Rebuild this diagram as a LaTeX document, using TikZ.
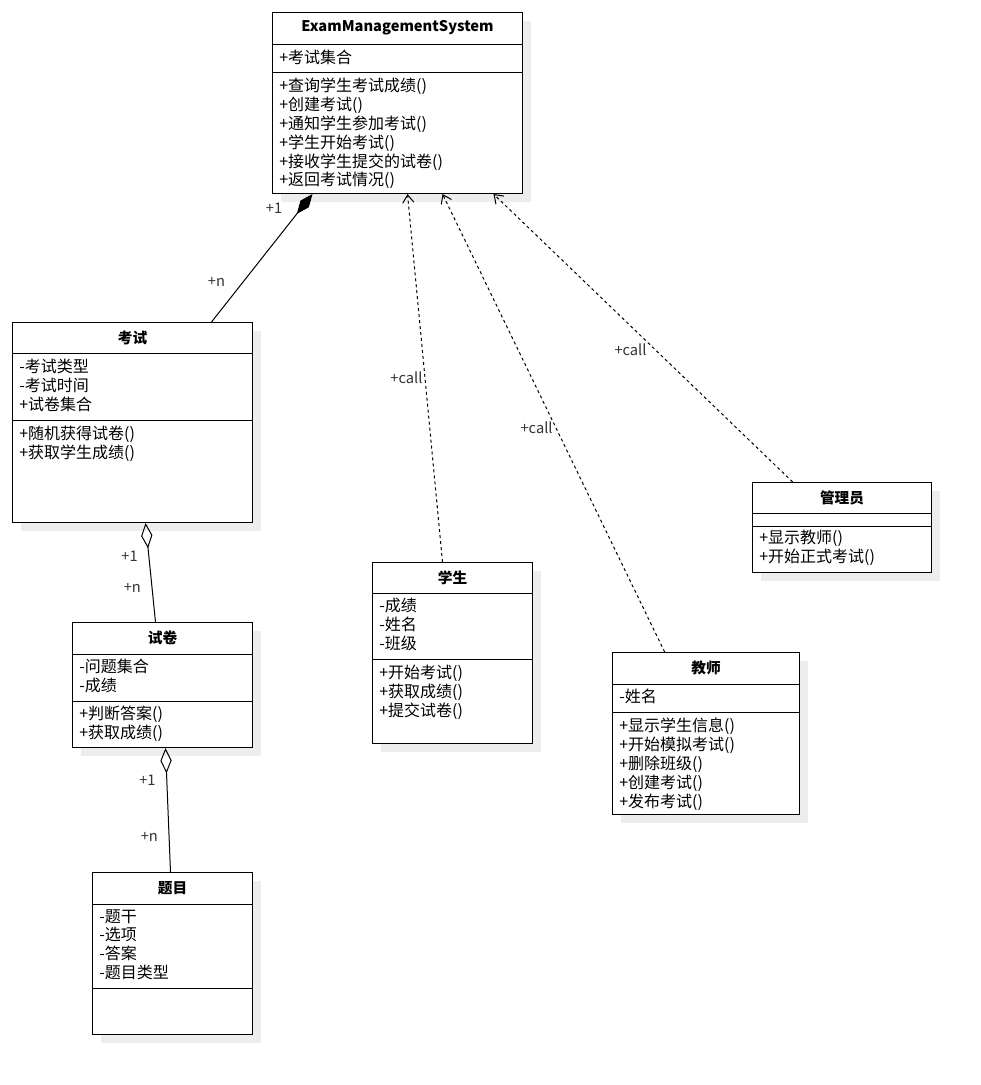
\documentclass[tikz,border=0pt]{standalone}
\usepackage{fontspec}
\setmainfont{Noto Sans CJK SC}
\usepackage{tikz}
\usetikzlibrary{arrows.meta}
\usetikzlibrary{positioning}
\usetikzlibrary{shadows}
\tikzstyle{every node}+=[inner sep=0pt]
\tikzstyle{classbox} = [rectangle, draw, line width=0.75pt, fill=white, anchor=north west, drop shadow={shadow xshift=6pt, shadow yshift=-6pt, fill=black!7, opacity=1}]
\tikzstyle{classname} = [font=\bfseries\fontsize{11}{13}\selectfont]
\tikzstyle{members} = [anchor=north west, align=left, font=\fontsize{12}{14.1}\selectfont]
\tikzstyle{mult} = [font=\fontsize{11}{13}\selectfont, text=black!80]
\tikzstyle{sep} = [draw, line width=0.75pt]
\tikzstyle{comp} = [draw, line width=0.75pt, -{Diamond[length=19pt, width=8pt]}]
\tikzstyle{aggr} = [draw, line width=0.75pt, {Diamond[open, length=19pt, width=8.5pt]}-]
\tikzstyle{dep} = [draw, line width=0.75pt, dash pattern=on 2.25pt off 2.25pt, -{Straight Barb[length=6pt, width=8.5pt]}]

\begin{document}
\begin{tikzpicture}[x=0.75pt, y=-0.75pt]
            \useasboundingbox (0,0) rectangle (981,1085);
            % Place class boxes
            \node [classbox, minimum width=187.5pt, minimum height=135.75pt] (ems) at (272,12) {};
            \node [classbox, minimum width=180pt, minimum height=150pt] (exam) at (12,322) {};
            \node [classbox, minimum width=135pt, minimum height=93.75pt] (paper) at (72,622) {};
            \node [classbox, minimum width=120pt, minimum height=121.5pt] (question) at (92,872) {};
            \node [classbox, minimum width=120pt, minimum height=135.75pt] (student) at (372,562) {};
            \node [classbox, minimum width=140.25pt, minimum height=121.5pt] (teacher) at (612,652) {};
            \node [classbox, minimum width=134.25pt, minimum height=67.5pt] (admin) at (752,482) {};
            % ExamManagementSystem
            \path (ems.north) ++(0,16) node [classname] (emsT) {ExamManagementSystem};
            \path [sep] (ems.north west) ++(0,32) -- ++(250,0);
            \path [sep] (ems.north west) ++(0,60) -- ++(250,0);
            \path (ems.north west) ++(7,38) node [members] (emsA) {+考试集合};
            \path (ems.north west) ++(7,66) node [members] (emsM) {+查询学生考试成绩()\\+创建考试()\\+通知学生参加考试()\\+学生开始考试()\\+接收学生提交的试卷()\\+返回考试情况()};
            % 考试
            \path (exam.north) ++(0,16) node [classname] (examT) {考试};
            \path [sep] (exam.north west) ++(0,31) -- ++(240,0);
            \path [sep] (exam.north west) ++(0,98) -- ++(240,0);
            \path (exam.north west) ++(7,37) node [members] (examA) {-考试类型\\-考试时间\\+试卷集合};
            \path (exam.north west) ++(7,104) node [members] (examM) {+随机获得试卷()\\+获取学生成绩()};
            % 试卷
            \path (paper.north) ++(0,16) node [classname] (paperT) {试卷};
            \path [sep] (paper.north west) ++(0,32) -- ++(180,0);
            \path [sep] (paper.north west) ++(0,79) -- ++(180,0);
            \path (paper.north west) ++(7,37) node [members] (paperA) {-问题集合\\-成绩};
            \path (paper.north west) ++(7,84) node [members] (paperM) {+判断答案()\\+获取成绩()};
            % 题目
            \path (question.north) ++(0,16) node [classname] (questionT) {题目};
            \path [sep] (question.north west) ++(0,32) -- ++(160,0);
            \path [sep] (question.north west) ++(0,116) -- ++(160,0);
            \path (question.north west) ++(7,37) node [members] (questionA) {-题干\\-选项\\-答案\\-题目类型};
            % 学生
            \path (student.north) ++(0,16) node [classname] (studentT) {学生};
            \path [sep] (student.north west) ++(0,31) -- ++(160,0);
            \path [sep] (student.north west) ++(0,97) -- ++(160,0);
            \path (student.north west) ++(7,36) node [members] (studentA) {-成绩\\-姓名\\-班级};
            \path (student.north west) ++(7,103) node [members] (studentM) {+开始考试()\\+获取成绩()\\+提交试卷()};
            % 教师
            \path (teacher.north) ++(0,16) node [classname] (teacherT) {教师};
            \path [sep] (teacher.north west) ++(0,32) -- ++(187,0);
            \path [sep] (teacher.north west) ++(0,60) -- ++(187,0);
            \path (teacher.north west) ++(7,37) node [members] (teacherA) {-姓名};
            \path (teacher.north west) ++(7,66) node [members] (teacherM) {+显示学生信息()\\+开始模拟考试()\\+删除班级()\\+创建考试()\\+发布考试()};
            % 管理员
            \path (admin.north) ++(0,16) node [classname] (adminT) {管理员};
            \path [sep] (admin.north west) ++(0,31) -- ++(179,0);
            \path [sep] (admin.north west) ++(0,44) -- ++(179,0);
            \path (admin.north west) ++(7,48) node [members] (adminM) {+显示教师()\\+开始正式考试()};
            % Draw edges
            \path [comp] ([xshift=59.25pt]exam.north) -- node [mult, pos=0.31, left=13pt] (m1) {+n} node [mult, pos=0.89, left=14pt] (m2) {+1} ([xshift=-63.75pt]ems.south);
            \path [aggr] ([xshift=9.75pt]exam.south) -- node [mult, pos=0.34, left=8pt] (m3) {+1} node [mult, pos=0.66, left=8pt] (m4) {+n} ([xshift=-5.25pt]paper.north);
            \path [aggr] ([xshift=2.25pt]paper.south) -- node [mult, pos=0.26, left=8pt] (m5) {+1} node [mult, pos=0.72, left=8pt] (m6) {+n} ([xshift=-1.5pt]question.north);
            \path [dep] ([xshift=-7.5pt]student.north) -- node [mult, pos=0.5, left=1.5pt] (c1) {+call} ([xshift=7.5pt]ems.south);
            \path [dep] ([xshift=-31pt]teacher.north) -- node [mult, pos=0.49, left=2pt] (c2) {+call} ([xshift=33.75pt]ems.south);
            \path [dep] ([xshift=-37pt]admin.north) -- node [mult, pos=0.46, left=6pt] (c3) {+call} ([xshift=72pt]ems.south);
          \end{tikzpicture}
\end{document}
